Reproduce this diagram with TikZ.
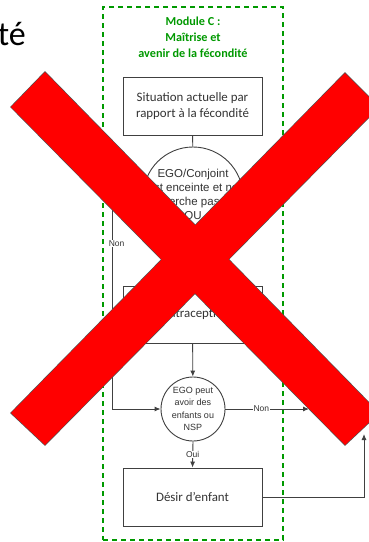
\documentclass[tikz,border=0pt]{standalone}
\usepackage{fontspec}
\setmainfont{Carlito}
\newfontfamily\arialf{Liberation Sans}
\usetikzlibrary{arrows.meta}
\definecolor{modgreen}{RGB}{0,153,0}
\definecolor{lineg}{RGB}{64,64,64}
\definecolor{textg}{RGB}{51,51,51}
\definecolor{crossedge}{RGB}{80,80,80}
\definecolor{crossred}{RGB}{255,0,0}
\begin{document}
\begin{tikzpicture}[x=1pt,y=-1pt,
  line/.style={draw=lineg, line width=0.9pt},
  arr/.style={line, -{Latex[length=6pt,width=5pt]}},
  box/.style={draw=lineg, line width=0.9pt, minimum width=139pt, minimum height=58pt, inner sep=0pt, align=center, font=\fontsize{12.9}{16}\selectfont, text=textg},
  circ/.style={circle, draw=lineg, line width=0.9pt, inner sep=0pt},
  circtext/.style={align=center, inner sep=0pt, text=textg},
  lbl/.style={fill=white, inner sep=0.6pt, font=\arialf\fontsize{8.5}{10}\selectfont, text=textg},
  modbox/.style={draw=modgreen, line width=2pt, dash pattern=on 5pt off 4pt, minimum width=180pt, minimum height=533pt, inner sep=0pt},
  crossbar/.style={fill=crossred}
]
\useasboundingbox (0,0) rectangle (369,542);
\fill[white] (0,0) rectangle (369,542);

\node[anchor=base east, inner sep=0pt, font=\fontsize{34}{34}\selectfont] (tit) at (26,45) {té};

\node[modbox] (module) at (193,273.5) {};
\node[font=\bfseries\fontsize{12.2}{16}\selectfont, text=modgreen, align=center, inner sep=0pt] (modtitle) at (193,37.5) {Module C :\\Maîtrise et\\avenir de la fécondité};

\node[box] (b1) at (192.5,106) {Situation actuelle par\\rapport à la fécondité};
\node[circ, minimum size=100pt] (c1) at (193,197) {};
\node[circtext, font=\arialf\fontsize{11.5}{14}\selectfont] (c1t) at (193,194) {EGO/Conjoint\\est enceinte et ne\\cherche pas à\\OU};
\node[box, minimum height=57pt] (b2) at (192.5,314.5) {Contraception};
\node[circ, minimum size=64pt] (c2) at (193,409) {};
\node[circtext, font=\arialf\fontsize{9}{12.5}\selectfont] (c2t) at (193,409) {EGO peut\\avoir des\\enfants ou\\NSP};
\node[box] (b3) at (192.5,497) {Désir d’enfant};

\coordinate (tgtA) at (309,409);
\coordinate (tgtB) at (364,434);

\draw[line] (b1) -- (c1);
\draw[arr] (c1) -- (b2);
\draw[arr] (b2) -- (c2);
\draw[arr] (c1.west) -- ++(-30,0) |- node[lbl, pos=0.11, xshift=4pt] {Non} (c2.west);
\draw[arr] (c2.east) -- node[lbl, pos=0.43] {Non} (tgtA);
\draw[arr] (c2.south) -- node[lbl] {Oui} (b3.north);
\draw[arr] (b3.east) -| (tgtB);

% red cross
\draw[draw=crossedge, line width=1.3pt] (45,72) -- (11,107) -- (345,445) -- (379,413) -- cycle;
\draw[draw=crossedge, line width=1.3pt] (11,413) -- (45,445) -- (379,107) -- (345,73) -- cycle;
\fill[crossbar] (45,72) -- (11,107) -- (345,445) -- (379,413) -- cycle;
\fill[crossbar] (11,413) -- (45,445) -- (379,107) -- (345,73) -- cycle;
\end{tikzpicture}
\end{document}
